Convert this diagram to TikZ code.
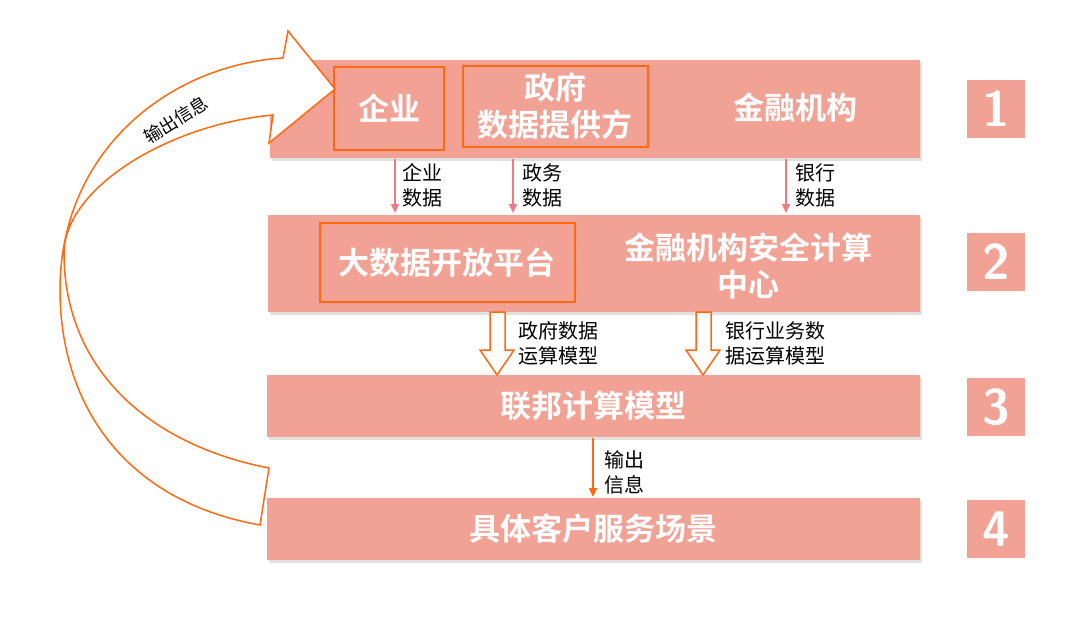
\documentclass[tikz,border=0pt]{standalone}
\usepackage{fontspec}
\setmainfont{Noto Sans CJK SC}
\newfontfamily\cjkb{Noto Sans CJK SC Bold}
\usetikzlibrary{arrows.meta}
\definecolor{boxc}{HTML}{F2A195}
\definecolor{orc}{HTML}{FF6A10}
\definecolor{pkc}{HTML}{F07A84}
\tikzset{
 band/.style={fill=boxc,draw=none},
 inbox/.style={draw=orc,line width=1.5pt},
 wt/.style={text=white,font=\cjkb\fontsize{31}{37}\selectfont,align=center,inner sep=0},
 num/.style={fill=boxc,text=white,font=\sffamily\bfseries\fontsize{50}{50}\selectfont,minimum width=58pt,minimum height=58pt,inner sep=0},
 sm/.style={font=\fontsize{20}{25}\selectfont,align=left,anchor=west,inner sep=0},
 parr/.style={draw=pkc,line width=1.5pt,-{Triangle[length=9pt,width=8pt]}},
 hol/.style={draw=orc,line width=1.5pt,fill=white,line join=miter}
}
\begin{document}
\begin{tikzpicture}[x=1pt,y=-1pt]
\useasboundingbox (0,0) rectangle (1080,618);
% bands
\fill[black!12] (272,63) rectangle (922,161);
\fill[black!12] (270,218) rectangle (922,315);
\fill[black!12] (269,378) rectangle (922,440);
\fill[black!12] (269,501) rectangle (922,563);
\path[band] (270,60) rectangle (920,158);
\path[band] (268,215) rectangle (920,312);
\path[band] (267,375) rectangle (920,437);
\path[band] (267,498) rectangle (920,560);
% inner boxes
\draw[inbox] (334,67) rectangle (444,150);
\draw[inbox] (463,66) rectangle (648,147);
\draw[inbox] (320,223) rectangle (575,302);
\node[wt] (qy) at (389,108) {企业};
\node[wt] (zf) at (555,106) {政府\\数据提供方};
\node[wt] (jr) at (795,108) {金融机构};
\node[wt] (dsj) at (447,263) {大数据开放平台};
\node[wt] (aq) at (748,266) {金融机构安全计算\\中心};
\node[wt] (lb) at (593,406) {联邦计算模型};
\node[wt] (cj) at (593,529) {具体客户服务场景};
\node[num] (n1) at (996,109) {1};
\node[num] (n2) at (996,262) {2};
\node[num] (n3) at (996,407) {3};
\node[num] (n4) at (996,529) {4};
% small arrows
\coordinate (a1s) at (395,159); \coordinate (a1e) at (395,213);
\coordinate (a2s) at (513,159); \coordinate (a2e) at (513,213);
\coordinate (a3s) at (786,159); \coordinate (a3e) at (786,213);
\draw[parr] (a1s) -- (a1e);
\draw[parr] (a2s) -- (a2e);
\draw[parr] (a3s) -- (a3e);
\node[sm] (l1) at (402,185) {企业\\数据};
\node[sm] (l2) at (522,185) {政务\\数据};
\node[sm] (l3) at (795,185) {银行\\数据};
% hollow arrows
\draw[hol] (490,312) -- (505,312) -- (505,350) -- (514,350) -- (497,375) -- (480,350) -- (490,350) -- cycle;
\draw[hol] (696,312) -- (711,312) -- (711,350) -- (720,350) -- (703,375) -- (686,350) -- (696,350) -- cycle;
\node[sm] (l4) at (518,343) {政府数据\\运算模型};
\node[sm] (l5) at (725,343) {银行业务数\\据运算模型};
% output arrow
\coordinate (o1) at (593,438); \coordinate (o2) at (593,497);
\draw[draw=orc,line width=1.5pt,-{Triangle[length=9pt,width=8pt]}] (o1) -- (o2);
\node[sm] (l6) at (604,472) {输出\\信息};
% curved arrow
\draw[draw=orc,line width=1.5pt,fill=white,line join=miter]
 (260,525) .. controls (120,500) and (60,400) .. (60,290)
 .. controls (60,150) and (170,65) .. (283,58)
 -- (288,31) -- (335,89) -- (269,143) -- (273,115)
 .. controls (165,125) and (64,190) .. (64,253)
 .. controls (64,370) and (150,445) .. (269,468) -- cycle;
\node[font=\fontsize{18}{20}\selectfont,rotate=32,inner sep=0] (l7) at (176,120) {输出信息};
\end{tikzpicture}
\end{document}
